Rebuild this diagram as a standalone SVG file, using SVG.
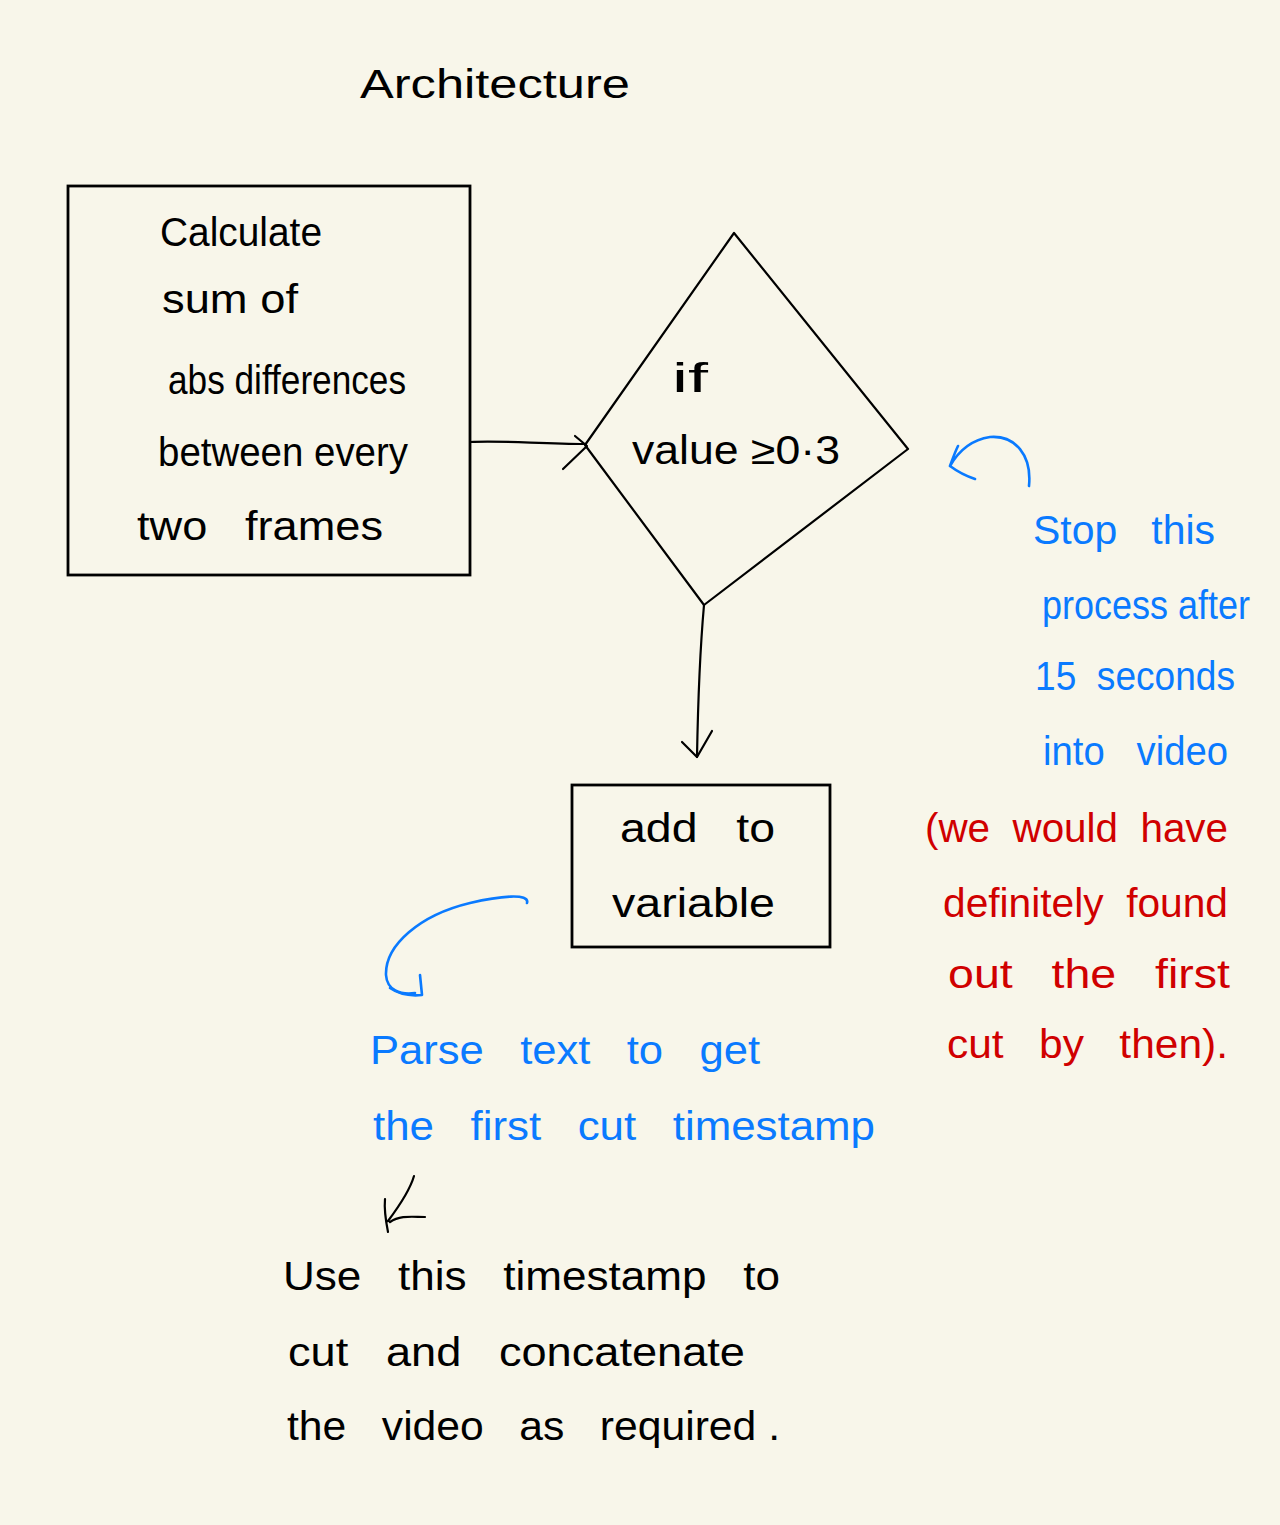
<svg xmlns="http://www.w3.org/2000/svg" width="1280" height="1525" viewBox="0 0 1280 1525">
<style>
.t{font-family:"Liberation Sans","DejaVu Sans",sans-serif;font-size:40px;white-space:pre;}
.k{fill:#000;}
.b{fill:#0a7aff;}
.r{fill:#d00000;}
.ln{fill:none;stroke:#000;stroke-width:2.2;stroke-linecap:round;stroke-linejoin:round;}
.bl{fill:none;stroke:#0a7aff;stroke-width:2.6;stroke-linecap:round;stroke-linejoin:round;}
.box{fill:none;stroke:#000;stroke-width:2.8;}
</style>
<rect width="1280" height="1525" fill="#f8f6ea"/>
<g id="title"><text class="t k" x="360" y="98" font-size="62" textLength="270" lengthAdjust="spacingAndGlyphs">Architecture</text></g>
<g id="node-calculate">
<rect class="box" x="68" y="186" width="402" height="389"/>
<text class="t k" x="160" y="246" textLength="162" lengthAdjust="spacingAndGlyphs">Calculate</text>
<text class="t k" x="162" y="313" textLength="136" lengthAdjust="spacingAndGlyphs">sum of</text>
<text class="t k" x="168" y="394" textLength="238" lengthAdjust="spacingAndGlyphs">abs differences</text>
<text class="t k" x="158" y="466" textLength="250" lengthAdjust="spacingAndGlyphs">between every</text>
<text class="t k" x="137" y="540" textLength="246" lengthAdjust="spacingAndGlyphs">two   frames</text>
</g>
<g id="node-if">
<polygon class="ln" points="734,233 908,449 704,605 585,445"/>
<text class="t k" x="672" y="392" textLength="36" lengthAdjust="spacingAndGlyphs">if</text>
<text class="t k" x="632" y="464" textLength="208" lengthAdjust="spacingAndGlyphs">value ≥0·3</text>
</g>
<g id="node-add">
<rect class="box" x="572" y="785" width="258" height="162"/>
<text class="t k" x="620" y="842" textLength="155" lengthAdjust="spacingAndGlyphs">add   to</text>
<text class="t k" x="612" y="917" textLength="163" lengthAdjust="spacingAndGlyphs">variable</text>
</g>
<g id="note-parse">
<text class="t b" x="370" y="1064" textLength="390" lengthAdjust="spacingAndGlyphs">Parse   text   to   get</text>
<text class="t b" x="373" y="1140" textLength="502" lengthAdjust="spacingAndGlyphs">the   first   cut   timestamp</text>
</g>
<g id="note-use">
<text class="t k" x="283" y="1290" textLength="497" lengthAdjust="spacingAndGlyphs">Use   this   timestamp   to</text>
<text class="t k" x="288" y="1366" textLength="457" lengthAdjust="spacingAndGlyphs">cut   and   concatenate</text>
<text class="t k" x="287" y="1440" textLength="493" lengthAdjust="spacingAndGlyphs">the   video   as   required .</text>
</g>
<g id="note-stop">
<text class="t b" x="1033" y="544" textLength="182" lengthAdjust="spacingAndGlyphs">Stop   this</text>
<text class="t b" x="1042" y="619" font-size="34" textLength="208" lengthAdjust="spacingAndGlyphs">process after</text>
<text class="t b" x="1035" y="690" textLength="200" lengthAdjust="spacingAndGlyphs">15  seconds</text>
<text class="t b" x="1043" y="765" textLength="185" lengthAdjust="spacingAndGlyphs">into   video</text>
</g>
<g id="note-red">
<text class="t r" x="925" y="842" textLength="303" lengthAdjust="spacingAndGlyphs">(we  would  have</text>
<text class="t r" x="943" y="917" textLength="285" lengthAdjust="spacingAndGlyphs">definitely  found</text>
<text class="t r" x="948" y="988" textLength="282" lengthAdjust="spacingAndGlyphs">out   the   first</text>
<text class="t r" x="947" y="1058" textLength="281" lengthAdjust="spacingAndGlyphs">cut   by   then).</text>
</g>
<g id="connectors">
<path class="ln" d="M470,442 C500,440 540,444 586,444"/>
<path class="ln" d="M563,469 L587,446 M575,436 L587,446"/>
<path class="ln" d="M704,605 C700,650 698,700 697,757"/>
<path class="ln" d="M682,742 L697,757 L712,731"/>
<path class="bl" d="M527,903 C530,893 500,896 470,903 C420,915 385,945 386,975 C387,990 400,995 415,993"/>
<path class="bl" d="M390,988 C400,995 412,996 422,995 L420,975"/>
<path class="bl" d="M1029,486 C1032,455 1015,435 990,437 C970,440 958,452 950,466 C958,472 966,476 975,479 M950,466 C953,458 955,452 958,446"/>
<path class="ln" d="M414,1176 C410,1190 400,1205 388,1221 M385,1199 C384,1210 386,1222 388,1232 M390,1222 C400,1215 412,1217 425,1217"/>
</g>
</svg>
